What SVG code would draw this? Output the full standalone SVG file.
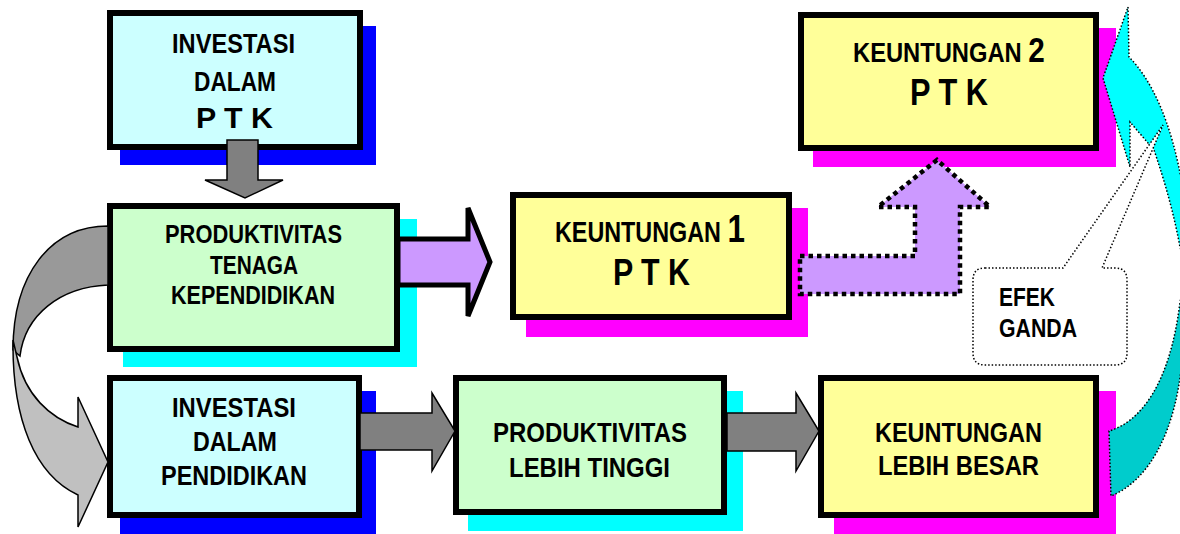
<svg xmlns="http://www.w3.org/2000/svg" width="1180" height="534" viewBox="0 0 1180 534">
<style>
.t{font-family:"Liberation Sans",Arial,sans-serif;font-weight:bold;fill:#000}
.box{stroke:#000;stroke-width:6}
.blue{fill:#CCFFFF}.green{fill:#CCFFCC}.yellow{fill:#FFFF99}
.sb{fill:#0000FF}.sc{fill:#00FFFF}.sm{fill:#FF00FF}
.gray{fill:#808080;stroke:#000;stroke-width:1.5;stroke-linejoin:miter}
.dots{stroke:#000;stroke-width:1.5;stroke-dasharray:1.5 2}
</style>
<defs>
<linearGradient id="cy" gradientUnits="userSpaceOnUse" x1="0" y1="0" x2="0" y2="534">
<stop offset="0" stop-color="#00FFFF"/>
<stop offset="0.53" stop-color="#00FFFF"/>
<stop offset="0.53" stop-color="#00CCCC"/>
<stop offset="1" stop-color="#00CCCC"/>
</linearGradient>
</defs>
<rect width="1180" height="534" fill="#fff"/>

<g id="node-investasi-ptk">
<rect class="sb" x="120" y="26" width="256" height="139"/>
<rect class="box blue" x="110" y="13" width="250" height="134"/>
<text class="t" x="172" y="53" font-size="28" textLength="123" lengthAdjust="spacingAndGlyphs">INVESTASI</text>
<text class="t" x="194" y="91" font-size="27" textLength="82" lengthAdjust="spacingAndGlyphs">DALAM</text>
<text class="t" x="196" y="128" font-size="29" textLength="77" lengthAdjust="spacingAndGlyphs">P T K</text>
</g>

<g id="node-produktivitas-tk">
<rect class="sc" x="123" y="219" width="294" height="148"/>
<rect class="box green" x="110" y="206" width="287" height="143"/>
<text class="t" x="165" y="243" font-size="25" textLength="177" lengthAdjust="spacingAndGlyphs">PRODUKTIVITAS</text>
<text class="t" x="210" y="274" font-size="25" textLength="88" lengthAdjust="spacingAndGlyphs">TENAGA</text>
<text class="t" x="171" y="304" font-size="25" textLength="164" lengthAdjust="spacingAndGlyphs">KEPENDIDIKAN</text>
</g>

<g id="node-keuntungan1">
<rect class="sm" x="526" y="208" width="282" height="129"/>
<rect class="box yellow" x="513" y="195" width="276" height="122"/>
<text class="t" transform="translate(555,242) scale(0.805,1)" font-size="29">KEUNTUNGAN <tspan font-size="39">1</tspan></text>
<text class="t" x="613" y="285" font-size="36" textLength="77" lengthAdjust="spacingAndGlyphs">P T K</text>
</g>

<g id="node-keuntungan2">
<rect class="sm" x="813" y="28" width="303" height="139"/>
<rect class="box yellow" x="801" y="15" width="295" height="133"/>
<text class="t" transform="translate(853,62) scale(0.848,1)" font-size="28">KEUNTUNGAN <tspan font-size="35">2</tspan></text>
<text class="t" x="910" y="105" font-size="36" textLength="78" lengthAdjust="spacingAndGlyphs">P T K</text>
</g>

<g id="node-investasi-pendidikan">
<rect class="sb" x="120" y="391" width="256" height="143"/>
<rect class="box blue" x="110" y="378" width="249" height="137"/>
<text class="t" x="172" y="417" font-size="27" textLength="124" lengthAdjust="spacingAndGlyphs">INVESTASI</text>
<text class="t" x="193" y="451" font-size="27" textLength="84" lengthAdjust="spacingAndGlyphs">DALAM</text>
<text class="t" x="161" y="485" font-size="27" textLength="146" lengthAdjust="spacingAndGlyphs">PENDIDIKAN</text>
</g>

<g id="node-produktivitas-tinggi">
<rect class="sc" x="468" y="391" width="275" height="140"/>
<rect class="box green" x="456" y="378" width="268" height="134"/>
<text class="t" x="493" y="442" font-size="28" textLength="194" lengthAdjust="spacingAndGlyphs">PRODUKTIVITAS</text>
<text class="t" x="509" y="477" font-size="28" textLength="161" lengthAdjust="spacingAndGlyphs">LEBIH TINGGI</text>
</g>

<g id="node-keuntungan-besar">
<rect class="sm" x="834" y="391" width="282" height="143"/>
<rect class="box yellow" x="821" y="378" width="275" height="137"/>
<text class="t" x="875" y="442" font-size="28" textLength="167" lengthAdjust="spacingAndGlyphs">KEUNTUNGAN</text>
<text class="t" x="878" y="475" font-size="28" textLength="161" lengthAdjust="spacingAndGlyphs">LEBIH BESAR</text>
</g>

<g id="connectors">
<path class="gray" d="M227,140 L258,140 L258,180 L283,180 L245,198 L205,180 L227,180 Z"/>
<path d="M398,239 L468,239 L468,208 L490,262 L468,316 L468,285 L398,285 Z" fill="#CC99FF" stroke="#000" stroke-width="5" stroke-linejoin="miter"/>
<path d="M800,256 L915,256 L915,207 L878,207 L937,160 L990,207 L960,207 L960,294 L800,294 Z" fill="#CC99FF" stroke="#000" stroke-width="4.5" stroke-dasharray="4.5 4"/>
<path d="M108,226 C50,226 13,275 13,350 L20,356 C25,315 60,287 108,285 Z" fill="#999999" stroke="#000" stroke-width="1.5"/>
<path d="M13,340 C12,420 35,475 78,495 L78,527 L108,462 L78,397 L78,427 C50,418 25,395 17,357 Z" fill="#C0C0C0" stroke="#000" stroke-width="1.5"/>
<path class="gray" d="M360,413 L432,413 L432,393 L455,431 L432,471 L432,450 L360,450 Z"/>
<path class="gray" d="M727,413 L796,413 L796,393 L819,431 L796,471 L796,451 L727,451 Z"/>
<path class="dots" fill="url(#cy)" d="M1128,7 L1129,57 C1150,78 1172,120 1183,190 C1195,260 1196,320 1182,360 C1176,430 1150,480 1111,496 L1109,431 C1140,422 1170,385 1180,302 C1186,280 1186,265 1180,247 C1174,215 1166,185 1153,147 L1148,143 L1130,122 L1130,167 L1103,78 Z"/>
</g>

<g id="node-efek-ganda">
<path class="dots" fill="#fff" d="M985,268 L1063,268 L1163,125 L1102,268 L1115,268 Q1127,268 1127,280 L1127,353 Q1127,365 1115,365 L985,365 Q973,365 973,353 L973,280 Q973,268 985,268 Z"/>
<text class="t" x="999" y="306" font-size="25" textLength="56" lengthAdjust="spacingAndGlyphs">EFEK</text>
<text class="t" x="999" y="337" font-size="25" textLength="78" lengthAdjust="spacingAndGlyphs">GANDA</text>
</g>
</svg>
